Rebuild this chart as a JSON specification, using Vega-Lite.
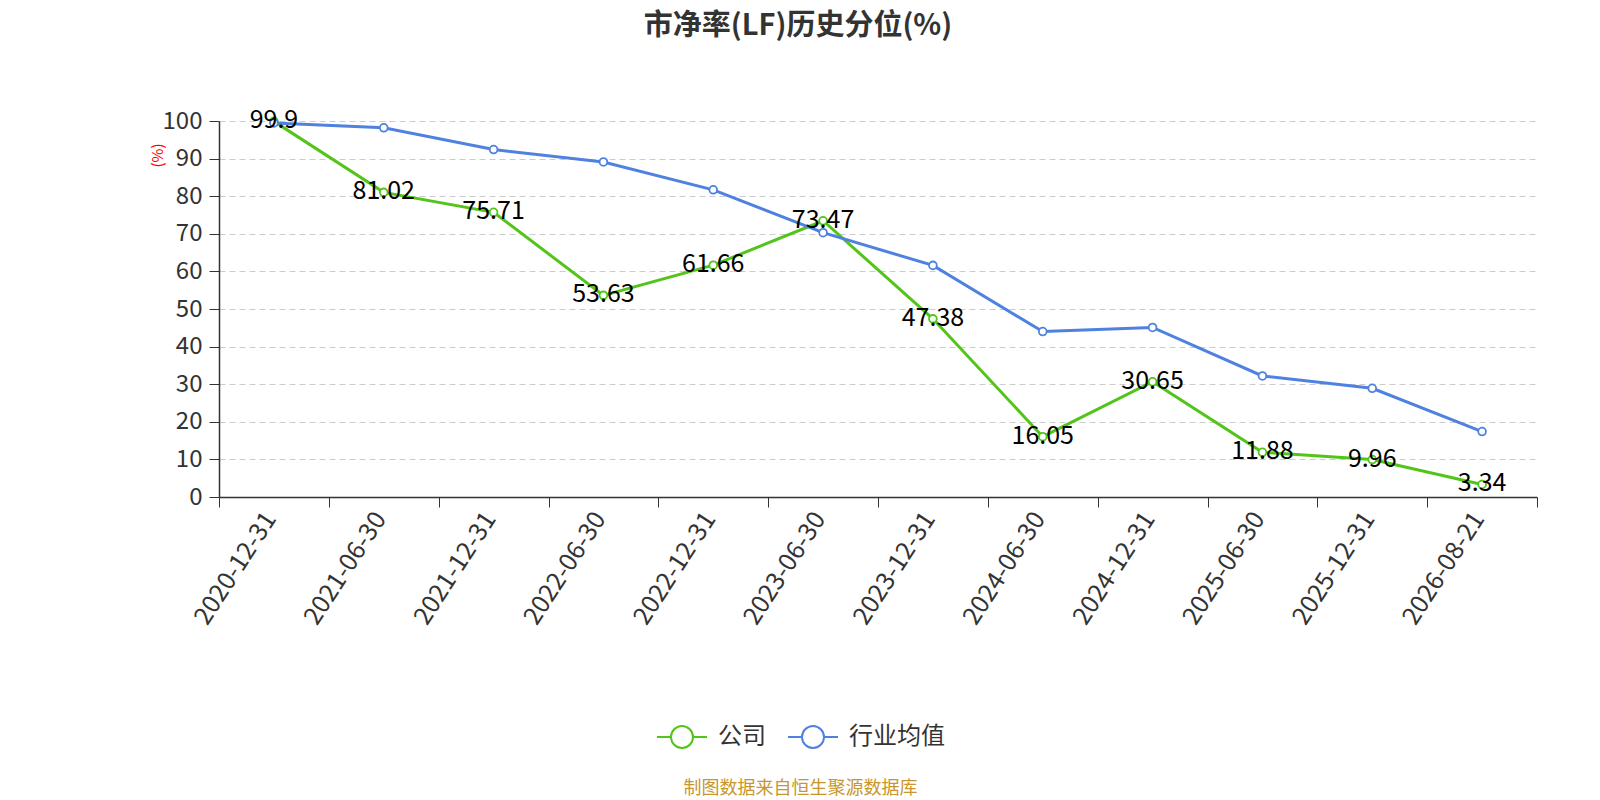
{
  "$schema": "https://vega.github.io/schema/vega-lite/v6.json",
  "width": 1318,
  "height": 376,
  "autosize": {"type": "none"},
  "padding": {"left": 219, "top": 121, "right": 63, "bottom": 303},
  "background": "#ffffff",
  "config": {
    "font": "Noto Sans CJK SC",
    "view": {"stroke": null}
  },
  "title": {
    "text": "市净率(LF)历史分位(%)",
    "fontSize": 29,
    "fontWeight": "bold",
    "color": "#333333",
    "anchor": "middle",
    "frame": "group",
    "dx": -80,
    "offset": 67
  },
  "data": {
    "values": [
      {"date": "2020-12-31", "series": "公司", "value": 99.9},
      {"date": "2021-06-30", "series": "公司", "value": 81.02},
      {"date": "2021-12-31", "series": "公司", "value": 75.71},
      {"date": "2022-06-30", "series": "公司", "value": 53.63},
      {"date": "2022-12-31", "series": "公司", "value": 61.66},
      {"date": "2023-06-30", "series": "公司", "value": 73.47},
      {"date": "2023-12-31", "series": "公司", "value": 47.38},
      {"date": "2024-06-30", "series": "公司", "value": 16.05},
      {"date": "2024-12-31", "series": "公司", "value": 30.65},
      {"date": "2025-06-30", "series": "公司", "value": 11.88},
      {"date": "2025-12-31", "series": "公司", "value": 9.96},
      {"date": "2026-08-21", "series": "公司", "value": 3.34},
      {"date": "2020-12-31", "series": "行业均值", "value": 99.5},
      {"date": "2021-06-30", "series": "行业均值", "value": 98.2},
      {"date": "2021-12-31", "series": "行业均值", "value": 92.4},
      {"date": "2022-06-30", "series": "行业均值", "value": 89.1},
      {"date": "2022-12-31", "series": "行业均值", "value": 81.7},
      {"date": "2023-06-30", "series": "行业均值", "value": 70.3},
      {"date": "2023-12-31", "series": "行业均值", "value": 61.6},
      {"date": "2024-06-30", "series": "行业均值", "value": 44.0},
      {"date": "2024-12-31", "series": "行业均值", "value": 45.1},
      {"date": "2025-06-30", "series": "行业均值", "value": 32.2},
      {"date": "2025-12-31", "series": "行业均值", "value": 28.9},
      {"date": "2026-08-21", "series": "行业均值", "value": 17.4}
    ]
  },
  "encoding": {
    "x": {
      "field": "date",
      "type": "nominal",
      "sort": null,
      "bandPosition": 0.5,
      "scale": {"type": "band", "paddingInner": 0, "paddingOuter": 0},
      "axis": {
        "title": "制图数据来自恒生聚源数据库",
        "titleColor": "#c8962e",
        "titleFontSize": 18,
        "titleFontWeight": "normal",
        "titleX": 581,
        "titleY": 291,
        "titleAlign": "center",
        "titleBaseline": "middle",
        "labelAngle": -57,
        "labelFontSize": 25,
        "labelColor": "#333333",
        "labelPadding": 7,
        "labelOffset": -4,
        "tickBand": "extent",
        "tickSize": 10,
        "tickColor": "#333333",
        "domainColor": "#333333",
        "domainWidth": 1.5,
        "grid": false
      }
    },
    "y": {
      "field": "value",
      "type": "quantitative",
      "scale": {"domain": [0, 100], "nice": false},
      "axis": {
        "title": "(%)",
        "titleColor": "#ff0000",
        "titleFontSize": 15,
        "titleFontWeight": "normal",
        "titleX": -62,
        "titleY": 34,
        "titleAngle": -90,
        "titleAlign": "center",
        "titleBaseline": "middle",
        "values": [0, 10, 20, 30, 40, 50, 60, 70, 80, 90, 100],
        "labelFontSize": 24,
        "labelColor": "#333333",
        "labelPadding": 7,
        "tickSize": 10,
        "tickColor": "#333333",
        "domainColor": "#333333",
        "domainWidth": 1.5,
        "gridColor": "#cccccc",
        "gridDash": [6, 4],
        "gridWidth": 1.2
      }
    }
  },
  "layer": [
    {
      "mark": {"type": "line", "strokeWidth": 3},
      "encoding": {
        "color": {
          "field": "series",
          "type": "nominal",
          "scale": {"domain": ["公司", "行业均值"], "range": ["#52c41a", "#4f81e0"]}
        }
      }
    },
    {
      "mark": {"type": "point", "filled": false, "fill": "#ffffff", "fillOpacity": 1, "strokeWidth": 1.8, "size": 60, "opacity": 1},
      "encoding": {
        "color": {
          "field": "series",
          "type": "nominal",
          "scale": {"domain": ["公司", "行业均值"], "range": ["#52c41a", "#4f81e0"]},
          "legend": {
            "title": null,
            "orient": "none",
            "direction": "horizontal",
            "legendX": 437,
            "legendY": 590,
            "symbolType": "M-1,0L-0.44,0M0.44,0L1,0M-0.44,0A0.44,0.44 0 1,1 0.44,0A0.44,0.44 0 1,1 -0.44,0Z",
            "symbolSize": 2500,
            "symbolStrokeWidth": 2,
            "symbolFillColor": "#ffffff",
            "symbolOpacity": 1,
            "labelFontSize": 24,
            "labelColor": "#333333",
            "labelOffset": 10,
            "columnPadding": 18
          }
        }
      }
    },
    {
      "transform": [{"filter": "datum.series === '公司'"}],
      "mark": {"type": "text", "fontSize": 25, "color": "#000000", "dy": -1},
      "encoding": {
        "text": {"field": "value", "type": "quantitative"}
      }
    }
  ]
}
